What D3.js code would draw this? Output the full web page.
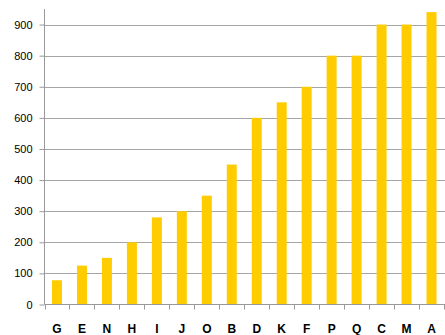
<!DOCTYPE html>
<html>
<head>
<meta charset="utf-8">
<script src="https://cdn.jsdelivr.net/npm/d3@7"></script>
<style>
  html, body { margin: 0; padding: 0; background: #fff; }
  svg { display: block; }
</style>
</head>
<body>
<svg id="chart" width="445" height="335"></svg>
<script>
// Category labels along the x axis
const categories = ["G","E","N","H","I","J","O","B","D","K","F","P","Q","C","M","A"];
// Bar values, one per category
const values = [78, 125, 150, 200, 280, 300, 350, 450, 600, 650, 700, 800, 800, 900, 900, 940];
// Y axis tick values
const yTicks = [0, 100, 200, 300, 400, 500, 600, 700, 800, 900];

const svg = d3.select("#chart");
const margin = { left: 44.5, right: 1, top: 9, bottom: 30.5 };
const W = 445, H = 335;

const x = d3.scaleBand()
  .domain(categories)
  .range([margin.left, W - margin.right])
  .paddingInner(0.6)
  .paddingOuter(0.3);

const y = d3.scaleLinear()
  .domain([0, 950])
  .range([H - margin.bottom, margin.top]);

// Horizontal gridlines
svg.append("g")
  .selectAll("line")
  .data(yTicks.filter(d => d > 0))
  .join("line")
  .attr("x1", margin.left)
  .attr("x2", W)
  .attr("y1", d => Math.round(y(d)) + 0.5)
  .attr("y2", d => Math.round(y(d)) + 0.5)
  .attr("stroke", "#a6a6a6")
  .attr("stroke-width", 1.2);

// Bars
svg.append("g")
  .selectAll("rect")
  .data(values)
  .join("rect")
  .attr("x", (d, i) => x(categories[i]))
  .attr("width", x.bandwidth())
  .attr("y", d => y(d))
  .attr("height", d => y(0) - y(d))
  .attr("fill", "#ffcc00");

// Y axis
const yAxis = d3.axisLeft(y)
  .tickValues(yTicks)
  .tickSize(5)
  .tickPadding(7)
  .tickFormat(d3.format("d"));

const gy = svg.append("g")
  .attr("transform", `translate(${margin.left},0)`)
  .call(yAxis);
gy.select(".domain").attr("stroke", "#999").attr("d", `M0,${margin.top}V${y(0)}`);
gy.selectAll(".tick line").attr("stroke", "#999");
gy.selectAll(".tick text")
  .attr("fill", "#000")
  .style("font-family", "Liberation Sans, Arial, sans-serif")
  .style("font-size", "11px");

// X axis: tick marks at band boundaries, labels at band centres
const boundaries = d3.range(categories.length + 1).map(i => margin.left + i * x.step());
const gx = svg.append("g");
gx.append("line")
  .attr("x1", margin.left).attr("x2", W)
  .attr("y1", y(0)).attr("y2", y(0))
  .attr("stroke", "#999");
gx.selectAll("line.tk")
  .data(boundaries)
  .join("line")
  .attr("class", "tk")
  .attr("x1", d => Math.round(d) + 0.5).attr("x2", d => Math.round(d) + 0.5)
  .attr("y1", y(0)).attr("y2", y(0) + 5)
  .attr("stroke", "#999");
gx.selectAll("text")
  .data(categories)
  .join("text")
  .attr("x", d => x(d) + x.bandwidth() / 2)
  .attr("y", y(0) + 28)
  .attr("text-anchor", "middle")
  .style("font-family", "Liberation Sans, Arial, sans-serif")
  .style("font-size", "12px")
  .style("font-weight", "bold")
  .text(d => d);
</script>
</body>
</html>
